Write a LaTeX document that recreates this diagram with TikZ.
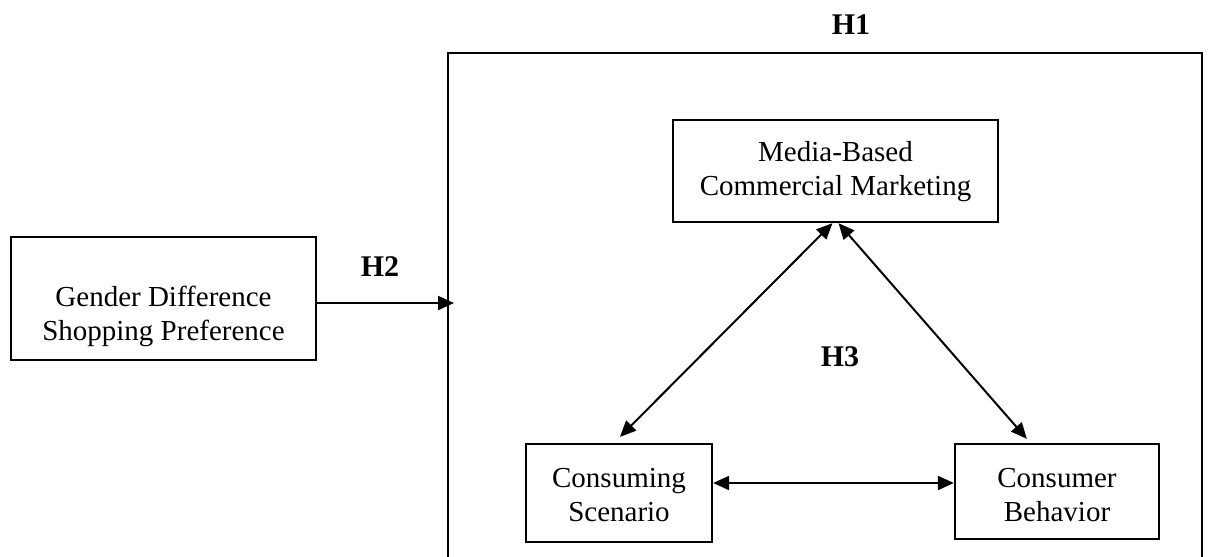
\documentclass[tikz,border=0pt]{standalone}
\usepackage{fontspec}
\setmainfont{Liberation Serif}
\usetikzlibrary{arrows.meta,calc}
\begin{document}
\begin{tikzpicture}[x=1pt,y=-1pt,
  box/.style={draw,line width=2.3pt,inner sep=0pt},
  txt/.style={align=center,inner sep=0pt,font=\fontsize{29}{34}\selectfont},
  hlab/.style={inner sep=0pt,font=\fontsize{30}{34}\selectfont\bfseries},
  conn/.style={line width=2pt,-{Triangle[length=16pt,width=14pt]}},
  biconn/.style={line width=2pt,{Triangle[length=16pt,width=14pt]}-{Triangle[length=16pt,width=14pt]}}]
\useasboundingbox (0,0) rectangle (1208,557);
% outer frame (open at the bottom, cut by the page)
\coordinate (obl) at (448,560);
\coordinate (otl) at (448,53);
\coordinate (otr) at (1202,53);
\coordinate (obr) at (1202,560);
\draw[line width=2.3pt] (obl) -- (otl) -- (otr) -- (obr);
% boxes
\node[box,minimum width=305pt,minimum height=123pt] (g) at (163.5,298.5) {};
\node[txt] (gt) at (163.5,316) {Gender Difference\\Shopping Preference};
\node[box,minimum width=325pt,minimum height=102pt] (m) at (835.5,171) {};
\node[txt] (mt) at (835.5,172) {Media-Based\\Commercial Marketing};
\node[box,minimum width=186pt,minimum height=98pt] (cs) at (619,493) {};
\node[txt] (cst) at (619,495) {Consuming\\Scenario};
\node[box,minimum width=204pt,minimum height=95pt] (cb) at (1057,491.5) {};
\node[txt] (cbt) at (1057,495) {Consumer\\Behavior};
% labels
\node[hlab] (h1) at (851,25) {H1};
\node[hlab] (h2) at (380,267) {H2};
\node[hlab] (h3) at (840,357) {H3};
% connectors
\coordinate (gin) at (454,303);
\draw[conn] (g.east |- gin) -- (gin);
\draw[biconn] ($(m.south)+(-3,0)$) -- ($(cs.north)+(1,-6)$);
\draw[biconn] ($(m.south)+(3,0)$) -- ($(cb.north west)+(73,-4)$);
\draw[biconn] ($(cs.east)+(0,-10)$) -- ($(cb.west)+(0,-8.5)$);
\end{tikzpicture}
\end{document}
